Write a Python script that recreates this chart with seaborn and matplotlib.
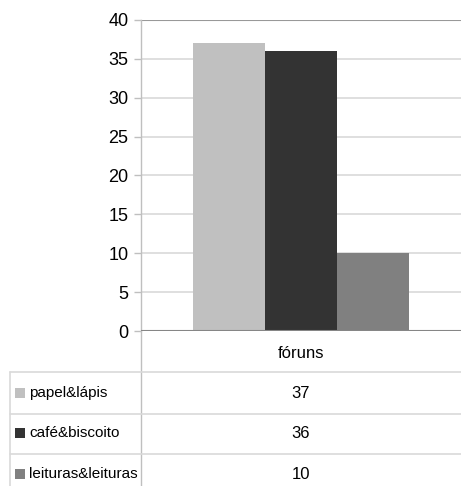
import matplotlib
matplotlib.use("Agg")
import matplotlib.pyplot as plt
from matplotlib.lines import Line2D
from matplotlib.patches import Rectangle
import seaborn as sns
import pandas as pd

# Data
category = "fóruns"
series = ["papel&lápis", "café&biscoito", "leituras&leituras"]
values = [37, 36, 10]
colors = ["#c0c0c0", "#333333", "#808080"]
yticks = [0, 5, 10, 15, 20, 25, 30, 35, 40]

sns.set_theme(style="white")
plt.rcParams["font.family"] = ["Liberation Sans Narrow", "Liberation Sans", "DejaVu Sans"]

W, H = 461, 486
fig = plt.figure(figsize=(W / 100, H / 100), dpi=100)
fig.patch.set_facecolor("white")


def fx(px):
    return px / W


def fy(py):
    return 1 - py / H


ax_left, ax_right, ax_top, ax_bottom = 141, 461, 20, 331
ax = fig.add_axes([fx(ax_left), fy(ax_bottom), fx(ax_right - ax_left), (ax_bottom - ax_top) / H])

df = pd.DataFrame({"cat": [category] * len(series), "serie": series, "valor": values})
sns.barplot(data=df, x="cat", y="valor", hue="serie", hue_order=series,
            palette=colors, width=0.675, saturation=1, ax=ax, legend=False,
            edgecolor="none", linewidth=0)

ax.set_xlim(-0.5, 0.5)
ax.set_ylim(0, 40)
ax.set_yticks(yticks)
ax.set_yticklabels([str(t) for t in yticks], fontsize=13, color="#000000")
ax.set_xticks([])
ax.set_xlabel("")
ax.set_ylabel("")
ax.yaxis.grid(True, color="#d9d9d9", linewidth=1.2)
ax.set_axisbelow(True)
ax.tick_params(axis="y", which="major", left=True, length=5, width=1,
               color="#bfbfbf", pad=4)
for s in ["top", "right", "bottom"]:
    ax.spines[s].set_visible(False)
ax.spines["left"].set_color("#bfbfbf")
ax.spines["left"].set_linewidth(1)
# darker baseline and top line
ax.axhline(0, color="#868686", linewidth=1.5, zorder=5)
ax.axhline(40, color="#999999", linewidth=1.5, zorder=1)

# Data table below the plot
grid_c = "#d9d9d9"
# vertical separator continuing the value axis
fig.add_artist(Line2D([fx(141), fx(141)], [fy(331), fy(486)], color="#bfbfbf", linewidth=1))
# left border of the table
fig.add_artist(Line2D([fx(10), fx(10)], [fy(372), fy(486)], color=grid_c, linewidth=1.2))
for py in [372, 414, 454]:
    fig.add_artist(Line2D([fx(10), fx(461)], [fy(py), fy(py)], color=grid_c, linewidth=1.2))

cx = (ax_left + ax_right) / 2
fig.text(fx(cx), fy(353), category, ha="center", va="center", fontsize=12, color="#000000")

row_y = [393, 433, 474]
for name, v, c, py in zip(series, values, colors, row_y):
    fig.add_artist(Rectangle((fx(15), fy(py + 5)), fx(10), 10 / H, facecolor=c,
                             edgecolor="none", transform=fig.transFigure))
    fig.text(fx(29), fy(py), name, ha="left", va="center", fontsize=11, color="#000000")
    fig.text(fx(cx), fy(py), str(v), ha="center", va="center", fontsize=12, color="#000000")

fig.savefig("out.png", dpi=100, facecolor="white")
